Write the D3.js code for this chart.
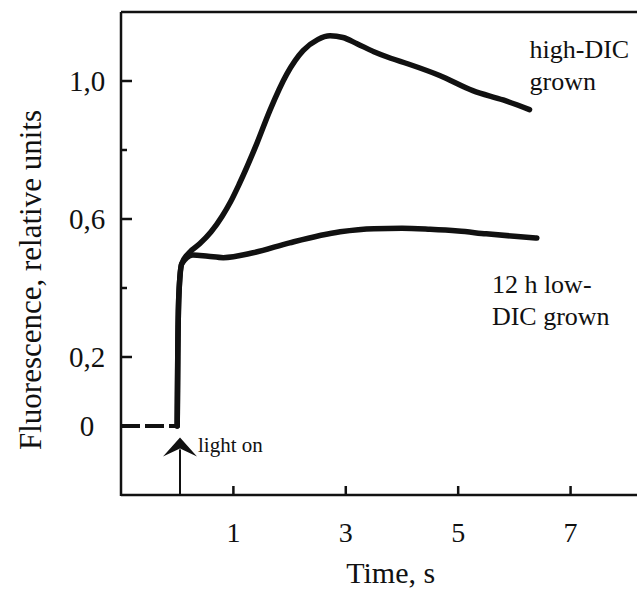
<!DOCTYPE html>
<html>
<head>
<meta charset="utf-8">
<script src="https://cdn.jsdelivr.net/npm/d3@7"></script>
<style>
  body { margin: 0; background: #fff; }
  svg text { font-family: "Liberation Serif", "Times New Roman", serif; fill: #111; }
</style>
</head>
<body>
<svg width="637" height="590"></svg>
<script>
// data
var timeHigh = [0, 0.01, 0.03, 0.08, 0.23, 0.4, 0.6, 0.8, 0.95, 1.1, 1.42, 1.65, 1.95, 2.24, 2.5, 2.72, 2.95, 3.2, 3.5, 3.8, 4.1, 4.67, 5.26, 5.8, 6.27];
var valHigh  = [0, 0.2, 0.38, 0.47, 0.505, 0.528, 0.562, 0.608, 0.65, 0.70, 0.82, 0.915, 1.02, 1.088, 1.12, 1.131, 1.126, 1.108, 1.085, 1.066, 1.05, 1.016, 0.972, 0.945, 0.917];

var timeLow = [0, 0.01, 0.03, 0.08, 0.28, 0.55, 0.82, 1.35, 2.0, 2.9, 3.5, 4.0, 4.5, 5.0, 5.5, 6.0, 6.4];
var valLow  = [0, 0.2, 0.38, 0.47, 0.496, 0.492, 0.488, 0.502, 0.531, 0.563, 0.572, 0.573, 0.57, 0.565, 0.557, 0.55, 0.545];

// dark baseline before light on
var timeDark = [-1, 0];
var valDark  = [0, 0];

var xTicks = [1, 3, 5, 7];
var yMajor = [0, 0.2, 0.6, 1.0];
var yMajorLabels = ["0", "0,2", "0,6", "1,0"];
var yMinor = [0.4, 0.8];

var svg = d3.select("svg"),
    width = +svg.attr("width"),
    height = +svg.attr("height");

var x = d3.scaleLinear().domain([-1, 8.2]).range([121, 638]);
var y = d3.scaleLinear().domain([-0.2, 1.2]).range([495, 12]);

var ink = "#111";
var serif = "'Liberation Serif', 'Times New Roman', serif";

// frame: left, top, bottom
svg.append("line").attr("x1", x(-1)).attr("x2", x(-1)).attr("y1", y(1.2)).attr("y2", y(-0.2) + 1)
    .attr("stroke", ink).attr("stroke-width", 2.5);
svg.append("line").attr("x1", x(-1)).attr("x2", width).attr("y1", y(1.2)).attr("y2", y(1.2))
    .attr("stroke", ink).attr("stroke-width", 2.5);
svg.append("line").attr("x1", x(-1)).attr("x2", width).attr("y1", y(-0.2)).attr("y2", y(-0.2))
    .attr("stroke", ink).attr("stroke-width", 2.5);

// x ticks (inward)
svg.selectAll(".xt").data(xTicks).enter().append("line")
    .attr("x1", d => x(d)).attr("x2", d => x(d))
    .attr("y1", y(-0.2)).attr("y2", y(-0.2) - 9)
    .attr("stroke", ink).attr("stroke-width", 2.5);
svg.selectAll(".xl").data(xTicks).enter().append("text")
    .attr("x", d => x(d)).attr("y", 542)
    .attr("text-anchor", "middle")
    .style("font-family", serif).style("font-size", "28px")
    .text(d => d);

// y ticks
svg.selectAll(".yt").data(yMajor).enter().append("line")
    .attr("x1", x(-1)).attr("x2", x(-1) + 11)
    .attr("y1", d => y(d)).attr("y2", d => y(d))
    .attr("stroke", ink).attr("stroke-width", 2.5);
svg.selectAll(".ym").data(yMinor).enter().append("line")
    .attr("x1", x(-1)).attr("x2", x(-1) + 6)
    .attr("y1", d => y(d)).attr("y2", d => y(d))
    .attr("stroke", ink).attr("stroke-width", 2.5);
svg.selectAll(".yl").data(yMajor).enter().append("text")
    .attr("x", 87).attr("y", d => y(d) + 10)
    .attr("text-anchor", "middle")
    .style("font-family", serif).style("font-size", "29px")
    .text((d, i) => yMajorLabels[i]);

// axis titles
svg.append("text")
    .attr("transform", "translate(41," + 280 + ") rotate(-90)")
    .attr("text-anchor", "middle")
    .style("font-family", serif).style("font-size", "31px")
    .text("Fluorescence, relative units");
svg.append("text")
    .attr("x", x(3.8)).attr("y", 583)
    .attr("text-anchor", "middle")
    .style("font-family", serif).style("font-size", "30px")
    .text("Time, s");

// curves
var line = d3.line()
    .x(d => x(d[0]))
    .y(d => y(d[1]))
    .curve(d3.curveMonotoneX);

svg.append("path")
    .datum(timeHigh.map((t, i) => [t, valHigh[i]]))
    .attr("d", line).attr("fill", "none")
    .attr("stroke", ink).attr("stroke-width", 5.5)
    .attr("stroke-linecap", "round").attr("stroke-linejoin", "round");

svg.append("path")
    .datum(timeLow.map((t, i) => [t, valLow[i]]))
    .attr("d", line).attr("fill", "none")
    .attr("stroke", ink).attr("stroke-width", 5.5)
    .attr("stroke-linecap", "round").attr("stroke-linejoin", "round");

svg.append("path")
    .datum(timeDark.map((t, i) => [t, valDark[i]]))
    .attr("d", d3.line().x(d => x(d[0])).y(d => y(d[1])))
    .attr("fill", "none").attr("stroke", ink).attr("stroke-width", 4)
    .attr("stroke-dasharray", "19,5");

// light-on arrow
var ax = x(0.05), tipY = y(-0.033), baseY = y(-0.2);
svg.append("line").attr("x1", ax).attr("x2", ax).attr("y1", tipY + 12).attr("y2", baseY)
    .attr("stroke", ink).attr("stroke-width", 2);
svg.append("path")
    .attr("d", "M" + ax + "," + tipY + " L" + (ax + 17) + "," + (tipY + 19) +
               " L" + ax + "," + (tipY + 11) + " L" + (ax - 17) + "," + (tipY + 19) + " Z")
    .attr("fill", ink);
svg.append("text")
    .attr("x", ax + 18).attr("y", tipY + 15)
    .style("font-family", serif).style("font-size", "21px")
    .text("light on");

// series labels
var highLabel = ["high-DIC", "grown"];
var lowLabel = ["12 h low-", "DIC grown"];

svg.selectAll(".hl").data(highLabel).enter().append("text")
    .attr("x", x(6.27)).attr("y", (d, i) => 58 + i * 32)
    .style("font-family", serif).style("font-size", "26px")
    .text(d => d);
svg.selectAll(".ll").data(lowLabel).enter().append("text")
    .attr("x", x(5.6)).attr("y", (d, i) => 293 + i * 32)
    .style("font-family", serif).style("font-size", "26px")
    .text(d => d);
</script>
</body>
</html>
